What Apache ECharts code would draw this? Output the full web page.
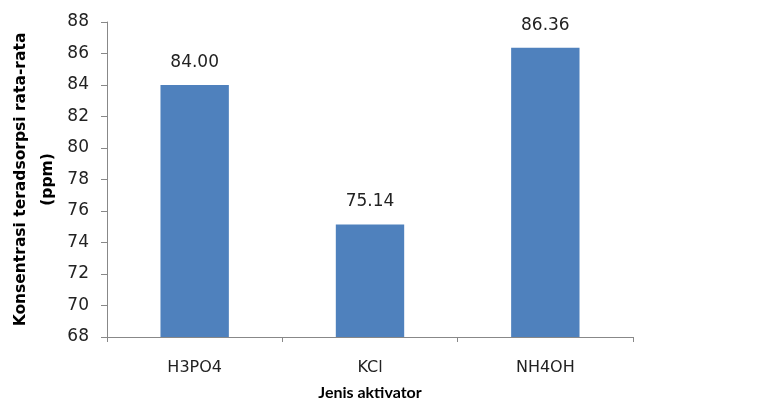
<!DOCTYPE html>
<html>
<head>
<meta charset="utf-8">
<script src="https://cdn.jsdelivr.net/npm/echarts@6/dist/echarts.min.js"></script>
<style>html,body{margin:0;padding:0;background:#fff}#c{width:763px;height:401px}</style>
</head>
<body>
<div id="c"></div>
<script>
var categories = ['H3PO4', 'KCl', 'NH4OH'];
var values = [84.00, 75.14, 86.36];
var yMin = 68, yMax = 88, yStep = 2;

var chart = echarts.init(document.getElementById('c'));
chart.setOption({
  animation: false,
  grid: { left: 107, right: 130, top: 22, bottom: 64, containLabel: false, outerBoundsMode: 'none' },
  xAxis: {
    type: 'category',
    data: categories,
    axisLine: { lineStyle: { color: '#888', width: 1 } },
    axisTick: { show: true, length: 5, lineStyle: { color: '#888' } },
    axisLabel: { color: '#222', fontSize: 16, fontFamily: 'DejaVu Sans', margin: 23 },
    name: 'Jenis aktivator',
    nameLocation: 'middle',
    nameGap: 48,
    nameTextStyle: { color: '#000', fontSize: 16, fontWeight: 'bold', fontFamily: 'Lato' }
  },
  yAxis: {
    type: 'value',
    min: yMin, max: yMax, interval: yStep,
    axisLine: { show: true, lineStyle: { color: '#888', width: 1 } },
    axisTick: { show: true, length: 6, lineStyle: { color: '#888' } },
    splitLine: { show: false },
    axisLabel: { color: '#222', fontSize: 17, fontFamily: 'DejaVu Sans', margin: 18 },
    name: 'Konsentrasi teradsorpsi rata-rata\n(ppm)',
    nameLocation: 'middle',
    nameGap: 46,
    nameMoveOverlap: false,
    nameRotate: 90,
    nameTextStyle: { color: '#000', fontSize: 15.5, fontWeight: 'bold', fontFamily: 'DejaVu Sans', lineHeight: 27 }
  },
  series: [{
    type: 'bar',
    data: values,
    barWidth: '39%',
    itemStyle: { color: '#4F81BD' },
    label: {
      show: true, position: 'top', distance: 14,
      formatter: function (p) { return p.value.toFixed(2); },
      color: '#222', fontSize: 17, fontFamily: 'DejaVu Sans'
    }
  }]
});
</script>
</body>
</html>
